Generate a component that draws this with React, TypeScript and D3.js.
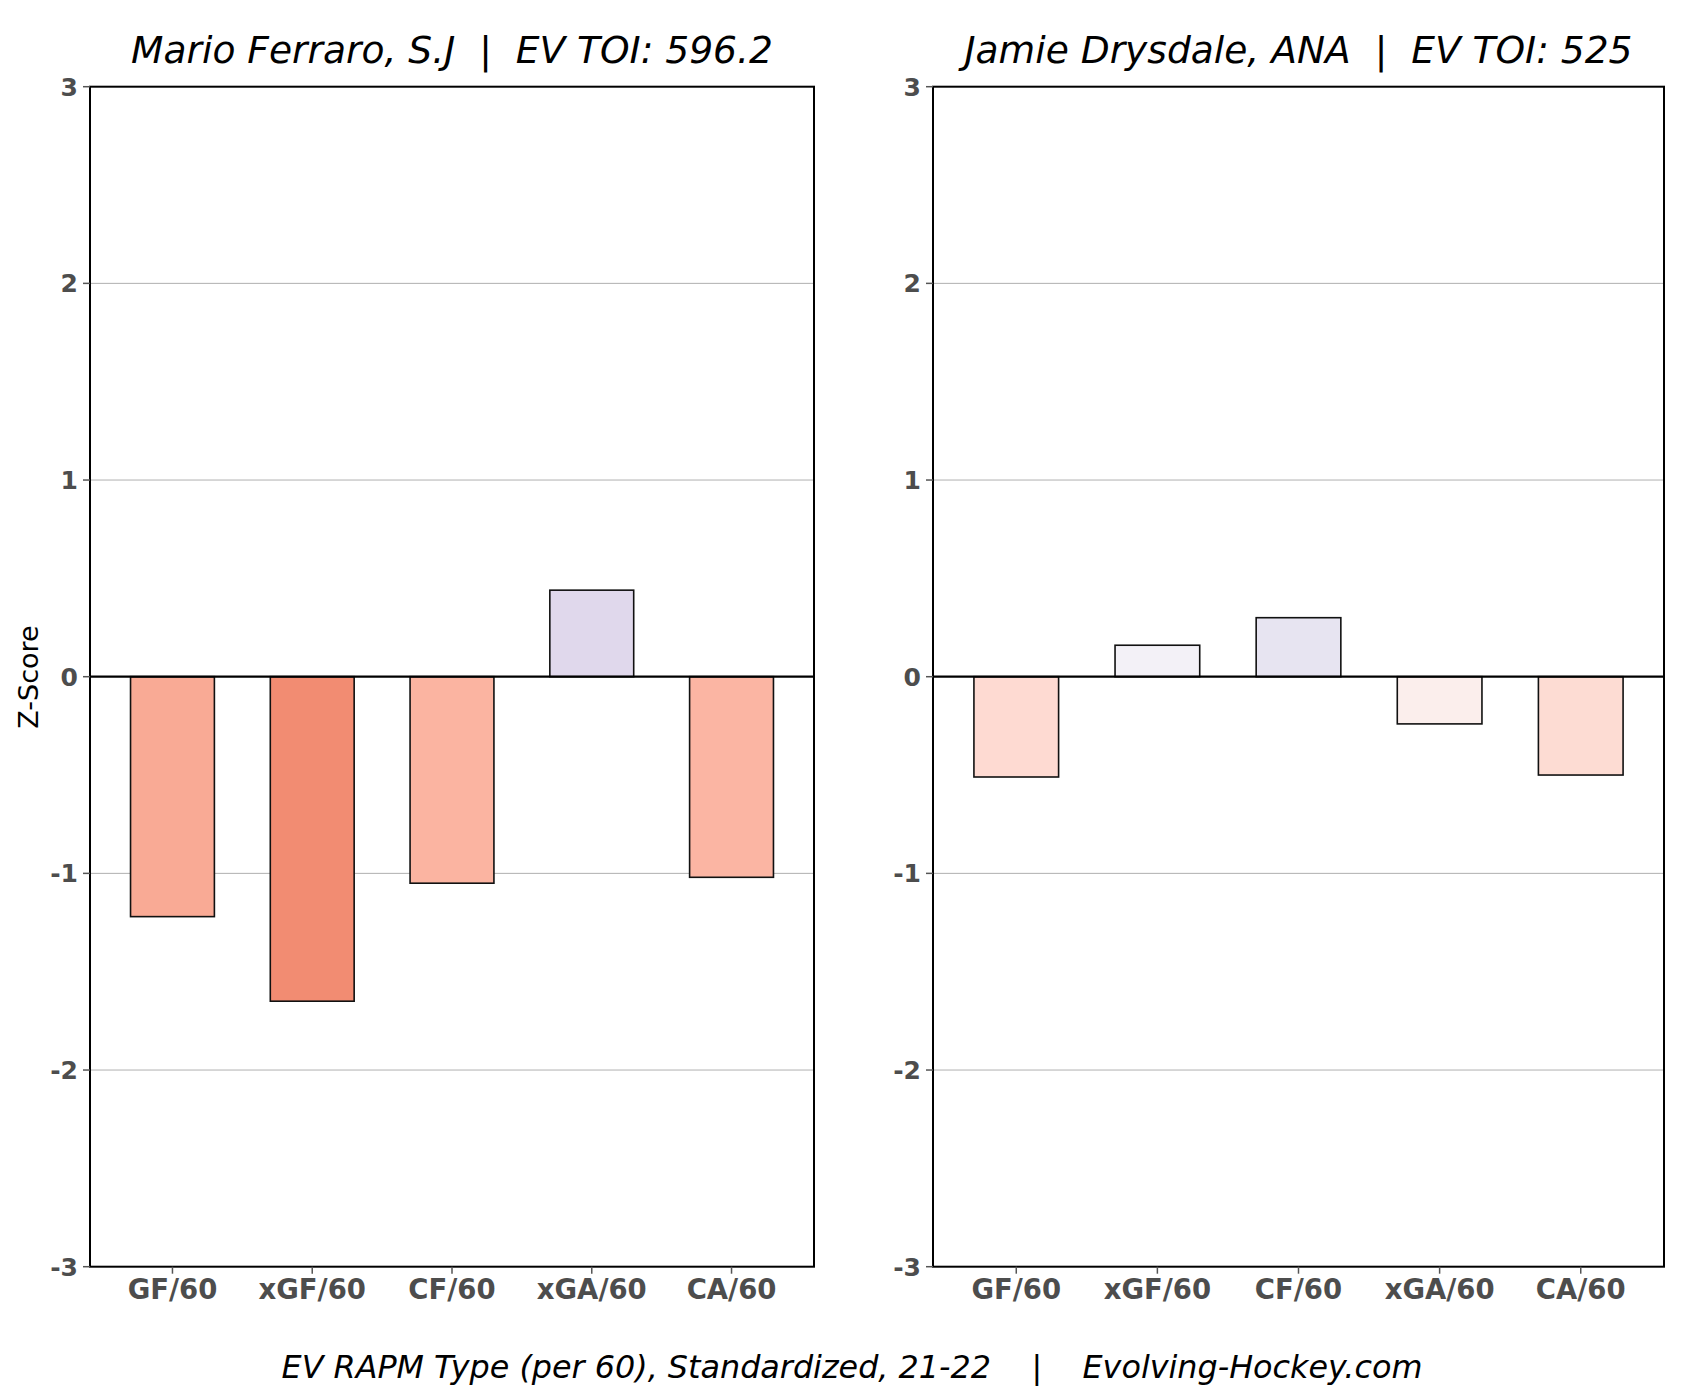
import React from "react";
import * as d3 from "d3";

const categories = ["GF/60", "xGF/60", "CF/60", "xGA/60", "CA/60"];
const ferraroValues = [-1.22, -1.65, -1.05, 0.44, -1.02];
const drysdaleValues = [-0.51, 0.16, 0.3, -0.24, -0.5];
const ferraroColors = ["#f9aa95", "#f28c72", "#fbb4a1", "#e0d8ec", "#fbb5a3"];
const drysdaleColors = ["#fedad2", "#f3f1f7", "#e7e4f1", "#fbeeec", "#fddcd3"];
const yTicks = [-3, -2, -1, 0, 1, 2, 3];
const titles = ["Mario Ferraro, S.J  |  EV TOI: 596.2", "Jamie Drysdale, ANA  |  EV TOI: 525"];
const footer = "EV RAPM Type (per 60), Standardized, 21-22    |    Evolving-Hockey.com";

const W = 1700;
const H = 1400;
const TOP = 86.7;
const BOTTOM = 1266.7;
const FONT = "DejaVu Sans, Verdana, sans-serif";

type PanelProps = {
  left: number;
  right: number;
  values: number[];
  colors: string[];
  title: string;
};

function Panel({ left, right, values, colors, title }: PanelProps) {
  const x = d3.scaleLinear().domain([-0.59, 4.59]).range([left, right]);
  const y = d3.scaleLinear().domain([-3, 3]).range([BOTTOM, TOP]);
  const bw = x(0.6) - x(0);
  return (
    <g>
      {yTicks
        .filter((t) => t !== 0 && Math.abs(t) !== 3)
        .map((t) => (
          <line key={"g" + t} x1={left} x2={right} y1={y(t)} y2={y(t)} stroke="#b0b0b0" strokeWidth={1} />
        ))}
      {values.map((v, i) => {
        const y0 = y(Math.max(0, v));
        const y1 = y(Math.min(0, v));
        return (
          <rect
            key={"b" + i}
            x={x(i) - bw / 2}
            y={y0}
            width={bw}
            height={y1 - y0}
            fill={colors[i]}
            stroke="#111"
            strokeWidth={1.6}
          />
        );
      })}
      <line x1={left} x2={right} y1={y(0)} y2={y(0)} stroke="#000" strokeWidth={2.2} />
      <rect x={left} y={TOP} width={right - left} height={BOTTOM - TOP} fill="none" stroke="#000" strokeWidth={2} />
      {yTicks.map((t) => (
        <g key={"yt" + t}>
          <line x1={left - 7} x2={left} y1={y(t)} y2={y(t)} stroke="#555" strokeWidth={1.5} />
          <text
            x={left - 12}
            y={y(t)}
            dy="0.36em"
            textAnchor="end"
            fontFamily={FONT}
            fontWeight="bold"
            fontSize={25}
            fill="#4d4d4d"
          >
            {t}
          </text>
        </g>
      ))}
      {categories.map((c, i) => (
        <g key={"xt" + c}>
          <line x1={x(i)} x2={x(i)} y1={BOTTOM} y2={BOTTOM + 7} stroke="#555" strokeWidth={1.5} />
          <text
            x={x(i)}
            y={1299}
            textAnchor="middle"
            fontFamily={FONT}
            fontWeight="bold"
            fontSize={27.5}
            fill="#4d4d4d"
          >
            {c}
          </text>
        </g>
      ))}
      <text
        x={(left + right) / 2}
        y={63}
        textAnchor="middle"
        fontFamily={FONT}
        fontStyle="italic"
        fontSize={37.6}
        fill="#000"
        style={{ whiteSpace: "pre" }}
      >
        {title}
      </text>
    </g>
  );
}

export default function App() {
  return (
    <svg
      width={W}
      height={H}
      viewBox={`0 0 ${W} ${H}`}
      style={{ position: "absolute", left: 0, top: 0, background: "#fff" }}
    >
      <rect x={0} y={0} width={W} height={H} fill="#fff" />
      <Panel left={90} right={814} values={ferraroValues} colors={ferraroColors} title={titles[0]} />
      <Panel left={933} right={1664} values={drysdaleValues} colors={drysdaleColors} title={titles[1]} />
      <text
        transform={`translate(38, 677) rotate(-90)`}
        textAnchor="middle"
        fontFamily={FONT}
        fontSize={27}
        fill="#000"
      >
        Z-Score
      </text>
      <text
        x={852}
        y={1378}
        textAnchor="middle"
        fontFamily={FONT}
        fontStyle="italic"
        fontSize={31.8}
        fill="#000"
        style={{ whiteSpace: "pre" }}
      >
        {footer}
      </text>
    </svg>
  );
}
